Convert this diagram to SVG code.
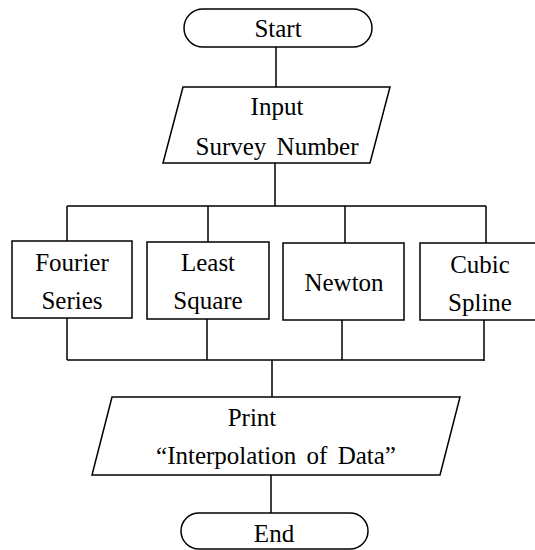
<svg xmlns="http://www.w3.org/2000/svg" width="535" height="550" viewBox="0 0 535 550">
<style>
.s{fill:#fff;stroke:#000;stroke-width:1.5}
.c{fill:none;stroke:#000;stroke-width:1.5}
.t{font-family:'Liberation Serif','Times New Roman','DejaVu Serif',serif;font-size:25px;fill:#000;text-anchor:middle;word-spacing:4px}
</style>
<rect width="535" height="550" fill="#fff"/>
<g id="connectors">
<path class="c" d="M276 47V87M275 163V206M67 206H486M67 206V241M208 206V242M345 206V243M486 206V243"/>
<path class="c" d="M67 318V360M207 319V360M342 320V360M484 320V361M67 360H484M272 360V397M271 475V513"/>
</g>
<g id="start">
<rect class="s" x="184" y="9" width="188" height="38" rx="19"/>
<text class="t" x="278" y="37">Start</text>
</g>
<g id="input">
<polygon class="s" points="183,87 390,87 370,163 163,163"/>
<text class="t" x="277" y="115">Input</text>
<text class="t" x="277" y="155">Survey Number</text>
</g>
<g id="fourier">
<rect class="s" x="12" y="241" width="120" height="77"/>
<text class="t" x="72" y="271">Fourier</text>
<text class="t" x="72" y="309">Series</text>
</g>
<g id="least">
<rect class="s" x="147" y="242" width="122" height="77"/>
<text class="t" x="208" y="271">Least</text>
<text class="t" x="208" y="309">Square</text>
</g>
<g id="newton">
<rect class="s" x="283" y="243" width="121" height="77"/>
<text class="t" x="344" y="291">Newton</text>
</g>
<g id="cubic">
<rect class="s" x="420" y="243" width="125" height="77"/>
<text class="t" x="480" y="273">Cubic</text>
<text class="t" x="480" y="311">Spline</text>
</g>
<g id="print">
<polygon class="s" points="112,397 460,397 440,475 92,475"/>
<text class="t" x="252" y="426">Print</text>
<text class="t" x="276" y="464">“Interpolation of Data”</text>
</g>
<g id="end">
<rect class="s" x="181" y="513" width="187" height="36" rx="18"/>
<text class="t" x="274" y="542">End</text>
</g>
</svg>
